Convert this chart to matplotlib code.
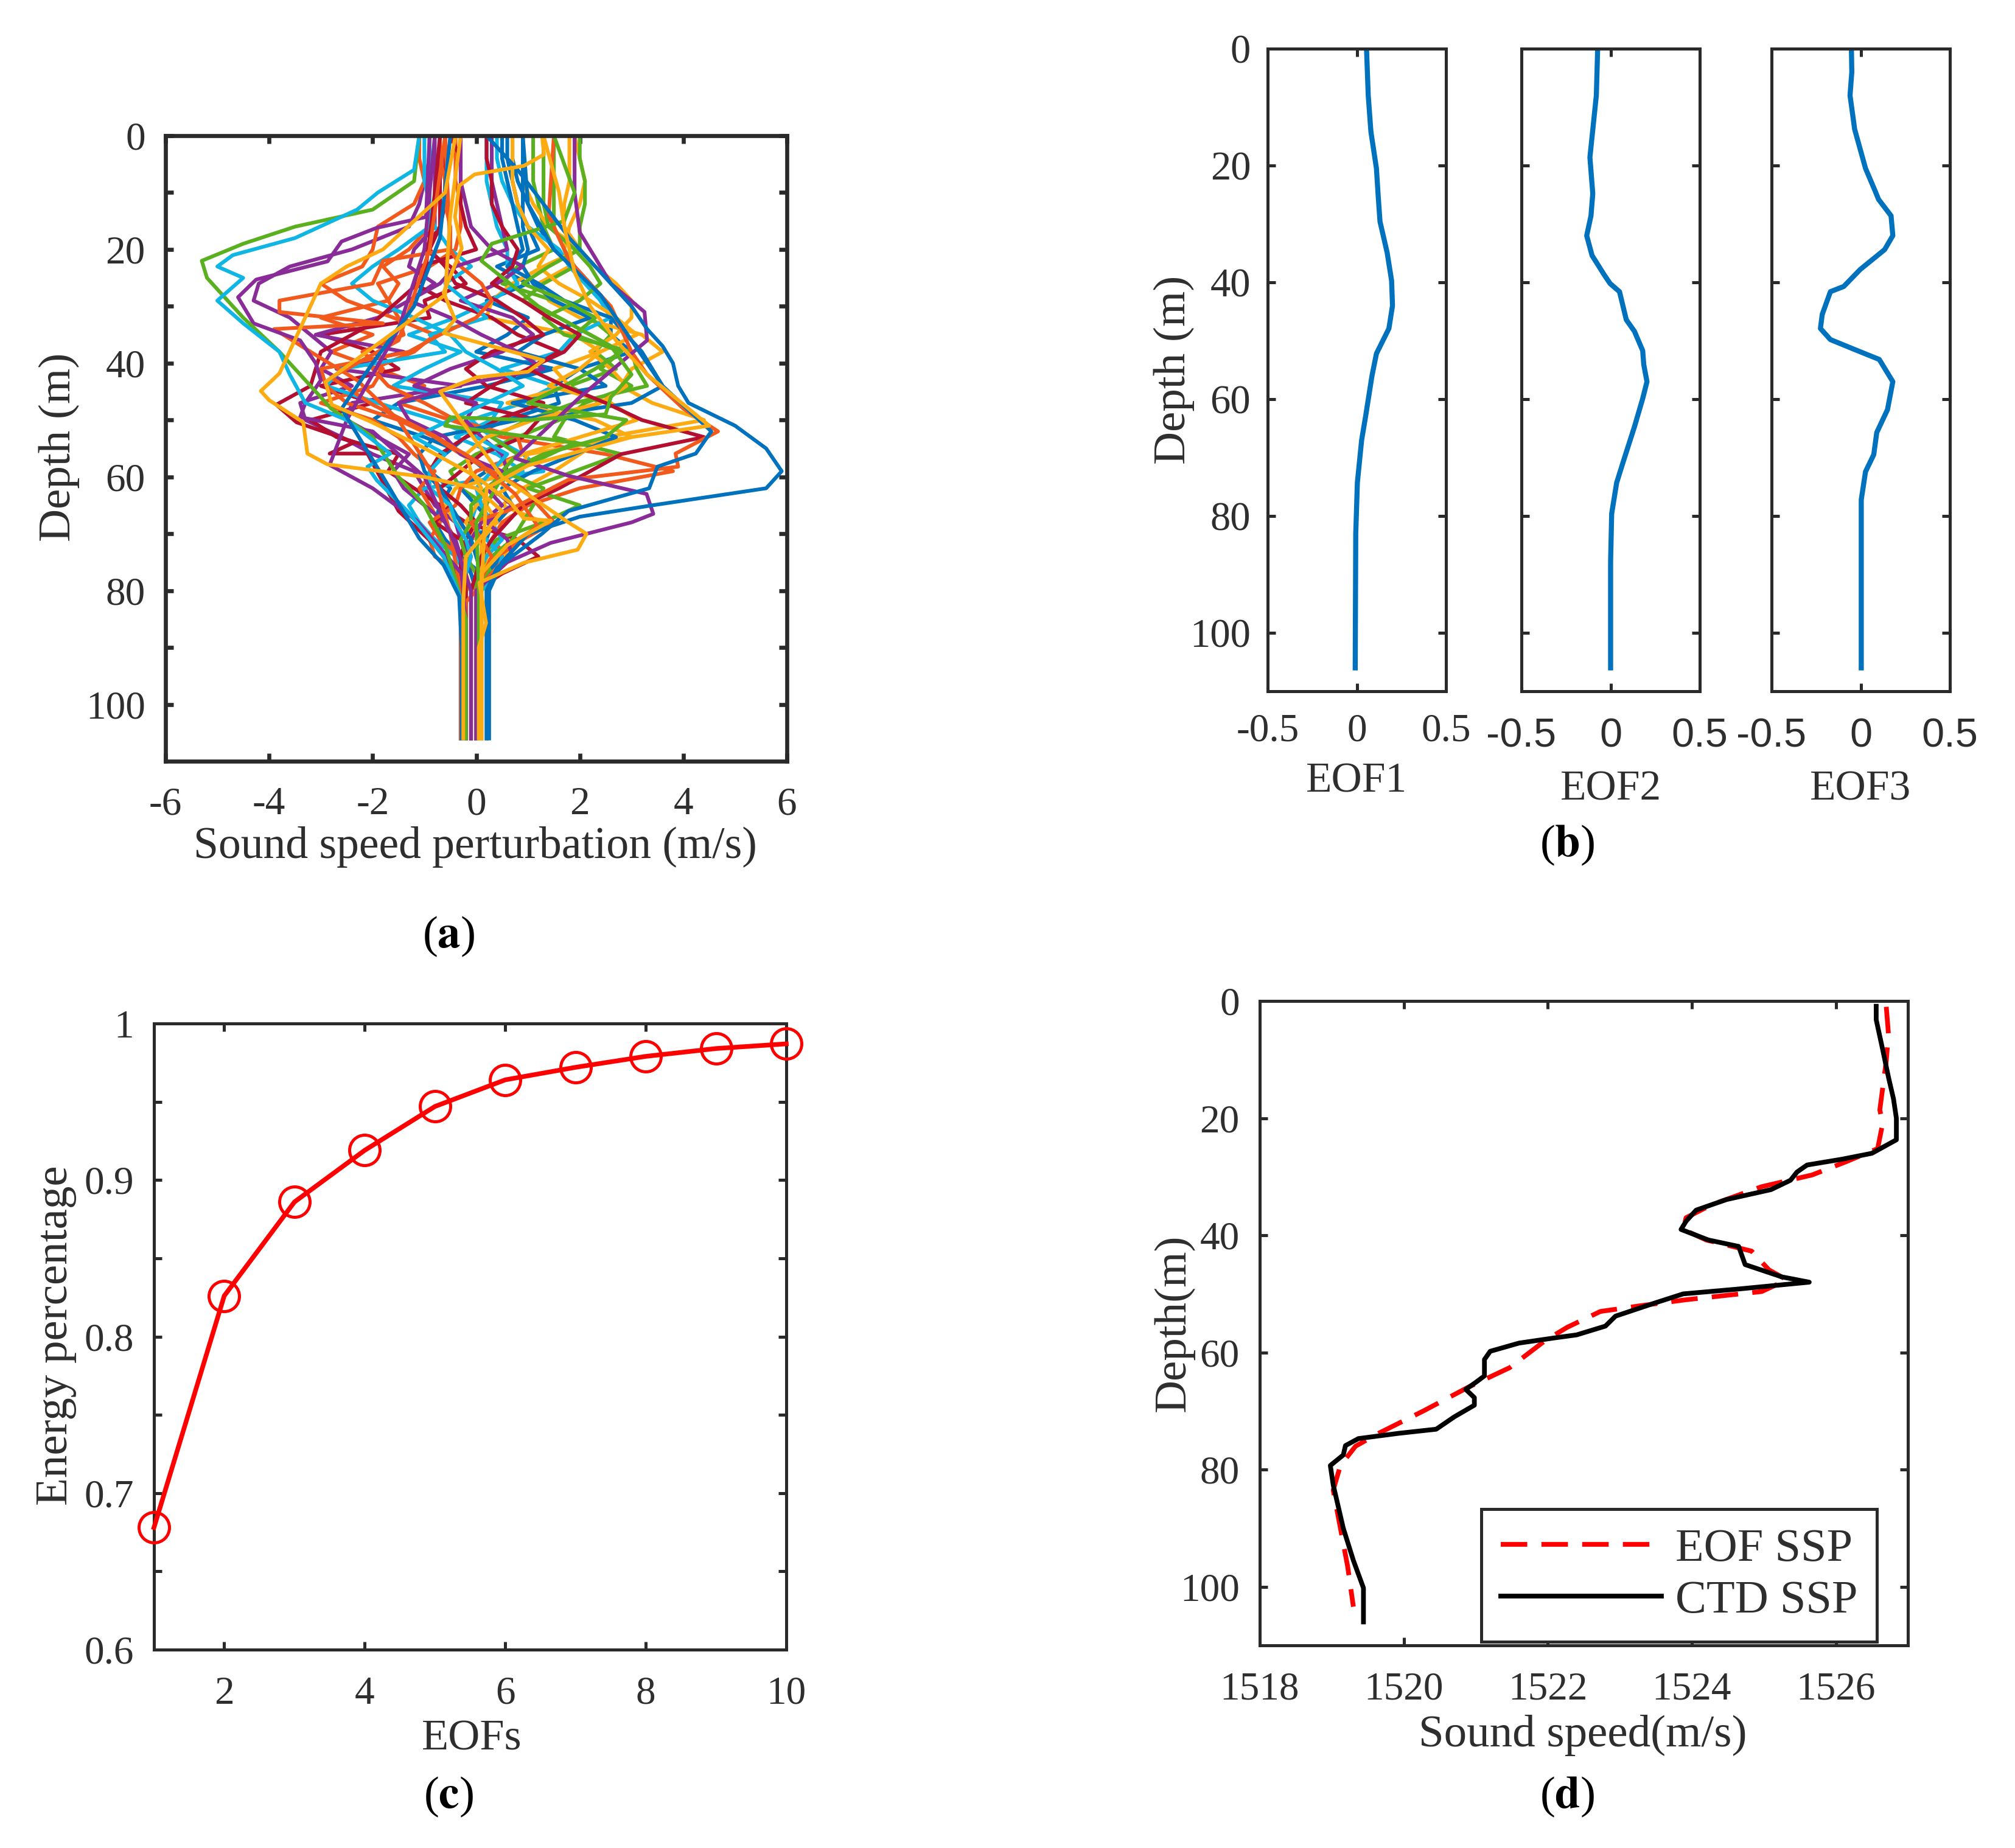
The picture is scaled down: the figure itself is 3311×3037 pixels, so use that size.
import matplotlib
matplotlib.use("Agg")
import matplotlib.pyplot as plt

W, H = 3311, 3037
TXT = '#2e2e2e'
plt.rcParams['font.family'] = ['Liberation Serif', 'DejaVu Serif']
plt.rcParams['axes.unicode_minus'] = False

# ---------- panel (a)
depth_grid = [0,4,8,12,16,20,23,26,29,32,35,38,41,44,47,50,53,56,59,62,65,68,71,74,77,80,85,90,106]
profiles = [
 [0.7,0.7,0.8,1.0,1.2,1.5,1.9,2.2,2.4,2.6,2.6,3.0,2.0,1.5,1.6,0.6,-0.2,-0.6,-0.9,-0.5,-0.7,-0.8,-0.6,-0.3,0.1,0.2,0.2,0.2,0.2],
 [-0.9,-0.9,-0.9,-0.9,-0.9,-1.3,-1.8,-1.5,-1.7,-3.0,-2.0,-2.8,-1.9,-1.0,-1.5,-0.5,0.5,2.5,3.8,2.0,1.0,0.5,0.3,0.6,0.1,-0.1,-0.1,-0.1,-0.1],
 [1.9,2.0,2.1,2.0,1.8,1.7,1.8,1.2,1.4,2.0,3.2,3.6,3.0,2.8,3.4,4.4,2.5,2.0,1.5,0.9,0.5,1.3,0.8,0.5,0.2,-0.2,-0.2,-0.2,-0.2],
 [-0.9,-0.9,-1.0,-1.1,-1.3,-2.4,-3.6,-4.2,-4.3,-3.6,-3.2,-2.8,-3.0,-2.4,-3.4,-3.3,-2.6,-2.0,-1.2,-1.0,-0.8,-0.4,-0.3,-0.2,-0.1,0.0,0.0,0.0,0.0],
 [1.1,1.1,1.1,1.2,1.3,1.5,0.8,0.5,1.5,2.2,2.6,2.3,2.7,1.8,2.4,1.6,0.8,0.0,-0.5,-0.3,0.2,0.1,-0.1,0.0,0.1,0.1,0.1,0.1,0.1],
 [0.4,0.4,0.5,0.7,1.0,1.6,1.8,2.1,2.4,2.6,1.9,1.6,0.5,1.5,0.9,-0.1,0.3,0.9,1.3,-1.0,-1.3,-1.1,-0.8,-0.4,-0.2,-0.2,-0.2,-0.2,-0.2],
 [-0.6,-0.6,-0.6,-0.6,-0.7,-1.0,-0.5,-0.2,-1.0,-0.9,-3.0,-2.0,-1.5,-3.0,-2.0,-3.2,-2.7,-1.5,-1.7,-1.2,-0.7,-0.2,0.8,1.2,0.5,0.0,0.0,0.0,0.0],
 [0.6,0.6,0.7,0.8,1.0,1.2,0.4,1.0,0.2,1.0,0.6,0.0,1.5,0.2,-1.5,-2.0,-1.0,-0.2,0.2,-0.3,0.0,0.3,0.2,0.5,0.2,0.1,0.1,0.1,0.1],
 [-0.4,-0.4,-0.4,-0.3,-0.3,-0.4,-0.9,-1.9,-1.7,-1.5,-1.4,-2.2,-1.8,-2.0,-3.0,-2.0,-1.5,-1.2,-0.8,-1.1,-0.9,-0.7,-0.9,-0.8,-0.3,-0.1,-0.1,-0.1,-0.1],
 [0.9,0.9,0.9,1.1,1.4,2.0,1.3,0.7,0.3,0.2,1.9,2.4,1.5,1.8,0.6,2.3,3.0,1.0,0.8,-0.4,-0.6,-0.4,0.1,0.2,0.2,0.2,0.2,0.2,0.2],
 [-0.8,-0.8,-0.8,-0.8,-0.8,-1.2,-1.3,-0.8,-1.3,-1.9,-3.1,-1.4,-2.7,-0.3,-2.4,-2.5,-1.9,-1.3,-1.6,-1.4,-1.0,-0.6,-0.4,-0.3,-0.3,-0.3,-0.3,-0.3,-0.3],
 [1.5,1.5,1.5,1.5,1.5,1.7,1.9,1.3,0.9,1.6,2.2,2.8,2.4,3.0,2.1,1.7,1.5,2.8,1.9,1.0,2.0,1.3,0.4,0.1,0.3,0.1,0.1,0.1,0.1],
 [0.2,0.2,0.2,0.3,0.4,0.6,0.6,0.8,0.3,-0.4,-1.3,-0.3,-1.0,-1.6,0.5,0.3,-0.4,0.4,0.9,0.2,0.0,-0.1,0.2,0.5,0.4,0.1,0.1,0.1,0.1],
 [-0.5,-0.3,-0.3,-0.3,-0.2,0.0,-1.1,-1.2,-0.6,0.3,0.8,1.6,1.0,0.3,-0.2,1.2,0.9,0.1,-0.3,-0.7,-0.5,-0.8,-0.3,-0.1,-0.2,-0.2,-0.2,-0.2,-0.2],
 [0.9,0.9,0.9,0.9,0.9,1.0,0.9,1.1,1.5,2.2,1.3,0.8,2.0,2.5,0.7,1.9,2.7,1.9,1.1,0.5,0.7,0.4,-0.1,-0.3,-0.1,0.0,0.0,0.0,0.0],
 [-1.1,-1.1,-1.0,-1.2,-1.9,-2.0,-2.2,-3.0,-2.5,-1.6,-0.8,-1.2,-2.0,-1.7,-1.0,-0.4,0.8,0.9,0.0,-0.3,-0.4,-0.9,-0.7,-0.3,-0.2,-0.1,-0.1,-0.1,-0.1],
 [0.7,0.7,0.7,0.8,1.0,1.4,1.2,1.6,2.2,2.7,3.1,2.4,2.0,1.4,2.6,3.1,2.0,0.9,0.2,0.6,0.0,-0.2,0.0,0.3,0.1,0.1,0.1,0.1,0.1],
 [-0.3,-0.3,-0.3,-0.2,-0.1,0.3,0.9,0.4,-0.3,0.7,1.1,0.5,-0.5,-1.2,0.0,-0.2,0.1,0.5,0.6,0.2,0.5,0.1,-0.1,-0.2,0.0,0.0,0.0,0.0,0.0],
 [1.3,1.3,1.3,1.3,1.4,1.9,2.2,2.4,2.0,1.3,1.7,3.0,3.1,3.3,1.9,1.0,0.3,0.8,0.5,1.3,1.1,0.9,0.7,0.3,0.2,0.1,0.1,0.1,0.1],
 [-0.9,-0.9,-0.9,-0.9,-0.8,-0.5,-0.1,-0.6,-0.2,0.2,-0.9,-0.6,-2.6,-2.9,-1.9,-0.8,0.0,0.6,0.3,0.0,0.1,0.3,0.5,0.2,0.0,-0.1,-0.1,-0.1,-0.1],
 [-0.7,-0.7,-0.7,-0.7,-0.7,-0.9,-0.6,-0.4,0.4,0.9,1.3,0.3,-0.2,0.2,1.3,0.4,-0.2,-0.7,-0.9,-0.7,-0.3,0.0,-0.2,-0.3,-0.3,-0.2,-0.2,-0.2,-0.2],
 [0.5,0.5,0.6,0.7,0.8,0.9,0.6,1.2,1.7,2.6,2.9,3.2,3.4,3.6,3.0,0.8,-0.8,-1.1,-1.0,-0.7,-0.5,-0.3,-0.1,0.0,0.1,0.1,0.1,0.1,0.1],
 [-0.7,-0.7,-0.6,-0.6,-0.5,-0.5,-0.3,0.1,0.3,0.0,-0.7,-1.3,-3.0,-2.9,-2.5,-1.5,-0.8,-0.3,0.3,0.9,1.2,1.5,0.9,0.4,0.1,-0.1,-0.1,-0.1,-0.1],
 [1.8,1.8,1.8,1.7,1.7,2.0,2.3,2.7,3.0,3.0,2.7,2.2,2.6,2.9,2.4,1.1,0.2,-0.2,-0.1,0.1,0.2,0.4,0.1,0.1,0.1,0.1,0.1,0.1,0.1],
 [0.3,0.3,0.3,0.4,0.5,0.6,-0.4,-0.7,-1.3,-0.5,0.1,0.8,1.3,-0.4,-1.5,-1.3,-0.6,-0.3,0.5,0.3,0.7,0.2,0.6,0.7,0.3,0.0,0.0,0.0,0.0],
 [2.0,2.0,2.1,2.1,2.0,2.0,1.4,0.9,1.7,2.3,1.9,2.8,2.3,1.7,1.0,2.9,2.5,1.3,0.6,0.2,-0.1,-0.1,-0.3,-0.2,0.0,0.0,0.0,0.0,0.0],
 [-1.0,-1.0,-1.0,-0.9,-0.9,-1.5,-2.0,-2.4,-2.0,-1.2,-0.5,-0.2,0.4,0.9,0.2,-0.5,-1.2,-0.6,-0.9,-0.9,-0.5,-0.4,-0.2,-0.1,-0.2,-0.3,-0.3,-0.3,-0.3],
 [0.2,0.2,0.3,0.3,0.5,0.8,0.7,0.3,0.9,1.4,2.0,1.7,1.0,1.7,2.5,3.2,4.4,2.8,2.2,1.6,0.9,0.6,0.3,0.1,0.0,-0.1,-0.1,-0.1,-0.1],
]
# individually traced curves: (colour index, x values, depth values)
tr_red_x = [-0.7,-0.8,-0.9,-1.0,-2.0,-3.0,-3.2,-3.86,-3.47,-2.35,-2.83,-2.1,-1.5,-0.8,-0.3,-0.2,-0.2]
tr_red_y = [0,10,18,25,33,38,44,47.3,50.4,53.9,55.9,55.9,66,72,78,85,106]
tr_orange_x = [-0.6,-0.5,-1.8,-2.0,-3.8,-3.8,-1.8,-3.9,-3.2,-2.3,-1.5,-0.8,-0.5,-0.3,-0.3]
tr_orange_y = [0,20,22,26,29,31,33,34,38,43,50,60,70,80,106]
tr_orangeS_x = [-0.6,-0.9,-1.5,-2.8,-2.0,-0.8,0.05,0.75,1.18,0.9,0.5,-0.2,-0.2]
tr_orangeS_y = [0,20,36,42.5,47.3,52.8,57.5,63,68.5,71,75,82,106]
tr_orangeR_x = [1.5,1.4,1.8,2.6,3.0,3.3,4.0,4.67,3.85,3.9,1.78,0.6,-0.1,0.3,0.0,0.0]
tr_orangeR_y = [0,14,22,30,38,42,48,52,55.9,58.2,60.5,66,68,74,80,106]
tr_yellowS_x = [-0.3,-0.5,-0.6,-2.91,-2.79,-2.01,-0.97,-0.03,0.66,0.92,1.44,0.6,0.1,0.1]
tr_yellowS_y = [0,14,28,43.3,47.3,50.4,55.1,59.8,64.5,67.3,67.7,72,77,106]
tr_yellowL_x = [-0.4,-0.6,-1.2,-1.8,-2.5,-3.0,-3.8,-4.16,-4.0,-3.34,-3.26,-2.87,-1.0,0.0,0.5,-0.2,-0.25,-0.25]
tr_yellowL_y = [0,10,15,20,23,26,41.8,44.9,46.5,50.4,55.9,57.8,60,62,66,74,82,106]
tr_yellowT_x = [1.27,1.31,0.92,-0.03,-0.33,-0.41,-0.28,-0.63,-0.41,-0.63,0.3,1.3,1.0,0.0,-0.7,0.5,1.78,2.13,1.96,0.92,0.06,0.19,0.05,0.05]
tr_yellowT_y = [0,3.3,5.3,6.8,8.8,14.3,19.8,27.6,32.3,34.7,37,39.5,41.5,42.5,45,60,68,70,72.8,75.1,78.6,85.7,90,106]
tr_yellowR_x = [1.3,1.6,1.7,1.9,2.2,2.7,3.3,4.5,3.0,1.8,1.0,0.2,0.1,0.1]
tr_yellowR_y = [0,10,16,24,30,36,42,51,53,56,58,62,80,106]
tr_purple_x = [-0.9,-0.97,-1.92,-2.6,-2.87,-4.25,-4.6,-4.3,-3.4,-3.1,-3.0,-3.3,-3.4,-2.0,-1.0,-0.4,-0.1,-0.1]
tr_purple_y = [0,14.3,16.2,18.6,22.1,25.3,28.4,33,36,40,43,47,49.5,52,60,72,80,106]
tr_purpleL_x = [-0.8,-1.0,-1.5,-2.5,-2.83,-2.0,-1.15,-0.28,-0.2,-0.2]
tr_purpleL_y = [0,20,34,50,57.9,62,67.7,77,85.7,106]
tr_purpleR_x = [1.9,1.9,2.0,2.6,3.25,3.3,2.0,0.75,1.78,3.29,3.42,3.0,1.44,0.6,0.0,0.0]
tr_purpleR_y = [0,10,17,26,31,36,46,56.7,59.8,63,66.5,68,71.6,75,80,106]
tr_green_x = [-1.1,-1.2,-2.0,-3.5,-4.5,-5.3,-5.2,-4.8,-4.5,-3.8,-3.2,-2.8,-2.0,-1.5,-1.0,-0.6,-0.4,-0.2,-0.2]
tr_green_y = [0,8,13,16,19,22,25,29,32,38,44,48,53,60,65,72,78,85,106]
tr_greenR_x = [1.5,1.9,1.7,0.3,0.1,1.2,2.6,3.0,2.6,2.5,1.0,-0.5,-0.6,1.9,0.5,0.0,0.05,0.05]
tr_greenR_y = [0,10,15,19,22,30,37,42,46,49,50,49.5,51,54,60,68,80,106]
tr_cyan_x = [-1.1,-1.2,-1.9,-2.3,-3.5,-4.7,-5.0,-4.5,-5.0,-4.5,-3.8,-3.6,-3.3,-2.5,-1.66,-2.1,-1.92,-1.32,-0.63,-0.28,-0.28]
tr_cyan_y = [0,6,10,13,18,21,23,25,29,33,38,42,47,50,55.9,58.2,60.6,66.1,74,81.8,106]
tr_blue_x = [0.2,0.8,1.3,1.8,2.2,2.6,3.0,3.3,3.6,3.8,3.9,4.1,5.0,5.6,5.9,5.8,5.6,3.4,2.0,1.0,0.5,0.25,0.25,0.25,0.25]
tr_blue_y = [0,6,12,18,22,26,30,34,37,40,44,47,51,55,59,60,62,65,67,70,75,80,85,95,106]
tr_blue2_x = [0.9,1.0,1.5,2.4,3.0,3.6,4.54,4.24,3.5,3.34,1.78,1.27,0.4,0.2,0.2]
tr_blue2_y = [0,12,20,28,36,44,52,55.9,58.2,62,66,70,76,80,106]
tr_blueL_x = [-0.5,-0.7,-1.2,-2.0,-2.6,-1.8,-1.1,-0.63,-0.33,-0.28,-0.28]
tr_blueL_y = [0,18,30,40,48,60,70.8,75.5,81,90,106]
traced = [
 (6, tr_red_x, tr_red_y), (1, tr_orange_x, tr_orange_y), (1, tr_orangeS_x, tr_orangeS_y),
 (1, tr_orangeR_x, tr_orangeR_y), (3, tr_purple_x, tr_purple_y), (3, tr_purpleL_x, tr_purpleL_y),
 (3, tr_purpleR_x, tr_purpleR_y), (4, tr_green_x, tr_green_y), (4, tr_greenR_x, tr_greenR_y),
 (5, tr_cyan_x, tr_cyan_y), (0, tr_blueL_x, tr_blueL_y), (0, tr_blue2_x, tr_blue2_y),
 (0, tr_blue_x, tr_blue_y), (2, tr_yellowS_x, tr_yellowS_y), (2, tr_yellowL_x, tr_yellowL_y),
 (2, tr_yellowT_x, tr_yellowT_y), (2, tr_yellowR_x, tr_yellowR_y),
]

matlab_colors = ['#0072bd', '#f2591c', '#fdab12', '#8a2c98', '#5bb01f', '#0fb5e3', '#b30f30']

# ---------- panel (b)
eof1_x = [.055,.064,.079,.11,.12,.13,.17,.195,.2,.18,.11,.085,.05,.027,.003,-.006,-.009]
eof1_y = [.5,8,14.2,20.5,25.3,29.6,34.9,39.7,44,47.9,52.2,56,62.8,67,74.3,83,106]
eof2_x = [-.073,-.08,-.116,-.1,-.11,-.134,-.104,-.034,-.003,.05,.088,.134,.18,.186,.204,.18,.134,.073,.034,.006,0,0]
eof2_y = [.5,8,18.6,24.8,28.6,32,35.4,38.8,40.2,41.6,46.4,48.4,51.7,54.1,57,59.9,64.7,70.5,74.3,79.6,87.8,106]
eof3_x = [-.052,-.05,-.06,-.034,.027,.08,.1,.17,.18,.134,-.003,-.095,-.17,-.216,-.226,-.17,-.018,.104,.18,.15,.09,.073,.027,.003,.003,.003]
eof3_y = [.5,4,8,13.8,20.5,24.3,25.8,28.6,32,34.4,37.8,40.7,41.6,45.5,47.9,49.8,51.7,53.2,57,61.8,65.7,69.5,72.4,77.2,87.8,106]
eof_ticks = [-0.5, 0, 0.5]
eof_ticklabels = ['-0.5', '0', '0.5']

# ---------- panel (c)
eof_index = [1,2,3,4,5,6,7,8,9,10]
energy = [0.678,0.826,0.886,0.919,0.947,0.964,0.972,0.979,0.984,0.987]

# ---------- panel (d)
ctd_x = [1526.56,1526.56,1526.65,1526.73,1526.8,1526.84,1526.84,1526.5,1526.09,1525.6,1525.46,1525.37,1525.1,1524.48,1524.06,1523.92,1523.85,1524.23,1524.65,1524.74,1525.25,1525.63,1524.62,1523.88,1523.5,1522.94,1522.8,1522.4,1522.1,1521.6,1521.2,1521.12,1521.12,1521.0,1520.86,1520.98,1520.98,1520.7,1520.45,1519.93,1519.37,1519.19,1519.16,1518.98,1519.02,1519.16,1519.3,1519.44,1519.44]
ctd_y = [.9,3.2,8.3,13,16.7,20,23.7,26,27,28,29.2,30.6,32.2,33.9,35.7,37.6,39,40.8,41.9,45,47.1,48,49.2,50,51.5,53.8,55.5,57,57.5,58.4,59.8,61.2,64,65.1,66.3,67.7,69,71,73.1,73.8,74.7,75.9,77.5,79.3,82.6,90,95.5,100.2,106]
eofssp_x = [1526.7,1526.73,1526.7,1526.61,1526.65,1526.58,1526.15,1525.67,1524.97,1524.27,1523.92,1523.88,1524.2,1524.83,1525.07,1525.32,1524.97,1523.92,1523.3,1522.73,1522.27,1521.96,1521.47,1520.9,1520.27,1519.65,1519.33,1519.12,1519.02,1519.12,1519.22,1519.3]
eofssp_y = [1,5.6,10.2,18.6,20.9,25.2,27.4,29.7,31.7,34.8,37,39,40.8,42.7,45.9,47.6,49.6,51,52,53,55.7,58,62.6,65.9,70,73.8,76,79.3,83.5,90,96.5,103.4]

fig = plt.figure(figsize=(W/100, H/100), dpi=100, facecolor='white')

def add_ax(l, r, t, b, lw):
    ax = fig.add_axes([l/W, 1-b/H, (r-l)/W, (b-t)/H])
    for s in ax.spines.values():
        s.set_linewidth(lw); s.set_color('#2a2a2a')
    ax.tick_params(which='both', direction='in', top=True, right=True, color='#2a2a2a',
                   labelcolor=TXT, width=lw, length=9.5)
    return ax

def label(px, py, s, rot=0, fs=54, **kw):
    fig.text(px/W, 1-py/H, s, ha='center', va='center', rotation=rot, fontsize=fs, color=TXT, **kw)

def caption(px, py, letter):
    fig.text(px/W, 1-py/H, '(' + r'$\mathbf{' + letter + '}$' + ')', ha='center', va='center',
             fontsize=54, color='black', math_fontfamily='stix')

# (a)
ax = add_ax(272, 1293, 223, 1251, 4.8)
LW_A = 4.4
for i, c in enumerate(profiles):
    ax.plot(c, depth_grid, color=matlab_colors[i % 7], lw=LW_A)
for ci, x, y in traced:
    ax.plot(x, y, color=matlab_colors[ci], lw=LW_A)
ax.set_xlim(-6, 6); ax.set_ylim(110, 0)
ax.set_xticks(range(-6, 7, 2))
ax.set_yticks(range(0, 101, 10))
ax.set_yticklabels([str(v) if v % 20 == 0 else '' for v in range(0, 101, 10)])
ax.tick_params(labelsize=47)
ax.tick_params(axis='x', pad=30); ax.tick_params(axis='y', pad=24)
label(781, 1392, 'Sound speed perturbation (m/s)', fs=53)
label(97, 735, 'Depth (m)', rot=90, fs=54)
caption(737, 1539, 'a')

# (b)
b_axes = [(2083, 2376), (2500, 2793), (2911, 3204)]
b_data = [(eof1_x, eof1_y), (eof2_x, eof2_y), (eof3_x, eof3_y)]
for k, ((l, r), (x, y)) in enumerate(zip(b_axes, b_data)):
    ax = add_ax(l, r, 80, 1136, 3.6)
    ax.plot(x, y, color='#0072bd', lw=6)
    ax.set_xlim(-0.5, 0.5); ax.set_ylim(110, 0)
    ax.set_xticks(eof_ticks)
    ax.set_yticks(range(0, 101, 20))
    if k == 0:
        ax.set_xticklabels(eof_ticklabels, fontsize=47)
        ax.tick_params(axis='y', labelsize=48, pad=20)
        ax.tick_params(axis='x', pad=26)
    else:
        ax.set_xticklabels(eof_ticklabels, fontsize=48, family='Liberation Sans')
        ax.set_yticklabels([])
        ax.tick_params(axis='x', pad=31)
label(2229, 1285, 'EOF1', fs=50)
label(2647, 1298, 'EOF2', fs=50)
label(3057, 1298, 'EOF3', fs=50)
label(1929, 608, 'Depth (m)', rot=90, fs=54)
caption(2575, 1389, 'b')

# (c)
ax = add_ax(253, 1292, 1682, 2711, 3.6)
ax.plot(eof_index, energy, color='#ff0000', lw=5.5, marker='o', ms=36, mfc='none', mew=3.6, clip_on=False, zorder=5)
ax.set_xlim(1, 10); ax.set_ylim(0.6, 1)
ax.set_xticks([2, 4, 6, 8, 10])
ax.set_yticks([0.6, 0.65, 0.7, 0.75, 0.8, 0.85, 0.9, 0.95, 1])
ax.set_yticklabels(['0.6', '', '0.7', '', '0.8', '', '0.9', '', '1'])
ax.tick_params(labelsize=47)
ax.tick_params(axis='x', pad=31); ax.tick_params(axis='y', pad=24)
label(775, 2858, 'EOFs', fs=52)
label(92, 2195, 'Energy percentage', rot=90)
caption(737, 2953, 'c')

# (d)
ax = add_ax(2070, 3135, 1645, 2704, 3.6)
ax.plot(eofssp_x, eofssp_y, color='#ff0000', lw=5.6, ls=(0, (5.6, 3)), label='EOF SSP')
ax.plot(ctd_x, ctd_y, color='black', lw=5.6, label='CTD SSP')
ax.set_xlim(1518, 1527); ax.set_ylim(110, 0)
ax.set_xticks([1518, 1520, 1522, 1524, 1526])
ax.set_yticks(range(0, 101, 20))
ax.tick_params(labelsize=47)
ax.tick_params(axis='x', pad=31); ax.tick_params(axis='y', pad=24)
leg = ax.legend(loc='lower right', bbox_to_anchor=((3084-2070)/(3135-2070), (2704-2698)/(2704-1645)),
                fontsize=55, fancybox=False, framealpha=1, borderaxespad=0,
                edgecolor='#2a2a2a', handlelength=3.45, labelspacing=0.2, handletextpad=0.3,
                borderpad=0.42, labelcolor=TXT)
leg.get_frame().set_linewidth(3.6)
label(2601, 2852, 'Sound speed(m/s)')
label(1929, 2174, 'Depth(m)', rot=90)
caption(2575, 2953, 'd')

fig.savefig('out.png', dpi=100, facecolor='white')
